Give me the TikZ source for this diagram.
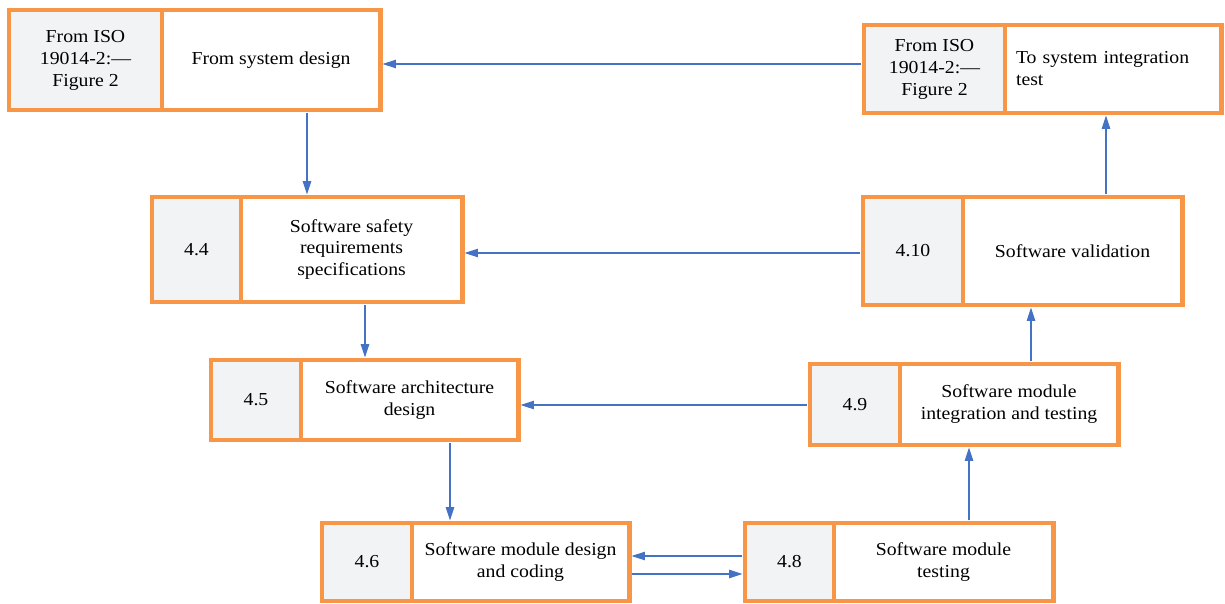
\documentclass[tikz,border=0pt]{standalone}
\usepackage{fontspec}
\setmainfont{Liberation Serif}[FakeStretch=1.08]
\usetikzlibrary{positioning,arrows.meta}
\definecolor{boxorange}{HTML}{F79646}
\definecolor{cellgrey}{HTML}{F2F3F5}
\definecolor{flowblue}{HTML}{4472C4}
\begin{document}
\begin{tikzpicture}[x=0.025cm,y=-0.025cm,
    cell/.style={draw=boxorange,line width=3.5pt,outer sep=0pt,align=center,
      font=\fontsize{13}{15.6}\selectfont},
    numcell/.style={cell,fill=cellgrey},
    txtcell/.style={cell,fill=white,right=0pt of #1},
    flow/.style={-{Triangle[length=9.5pt,width=6pt]},flowblue,line width=0.85pt,
      shorten <=1.8pt,shorten >=1.8pt}]
  \useasboundingbox (0,0) rectangle (1225,604);

  % top row
  \node[numcell,minimum width=3.825cm,minimum height=2.5cm] (iso1) at (85.5,60)
    {From ISO\\19014-2:—\\Figure 2};
  \node[txtcell=iso1,minimum width=5.45cm,minimum height=2.5cm] (sysd) {From system design};
  \node[numcell,minimum width=3.525cm,minimum height=2.2cm] (iso2) at (934.5,69)
    {From ISO\\19014-2:—\\Figure 2};
  \node[txtcell=iso2,minimum width=5.4cm,minimum height=2.2cm,align=left,
    text width=4.85cm] (sysi) {To system integration\\test};

  % left branch
  \node[numcell,minimum width=2.225cm,minimum height=2.625cm] (n44) at (196.5,249.5) {4.4};
  \node[txtcell=n44,minimum width=5.525cm,minimum height=2.625cm] (ssr)
    {Software safety\\requirements\\specifications};
  \node[numcell,minimum width=2.25cm,minimum height=2cm] (n45) at (256,400) {4.5};
  \node[txtcell=n45,minimum width=5.425cm,minimum height=2cm] (sad)
    {Software architecture\\design};
  \node[numcell,minimum width=2.25cm,minimum height=1.95cm] (n46) at (367,562) {4.6};
  \node[txtcell=n46,minimum width=5.425cm,minimum height=1.95cm] (smd)
    {Software module design\\and coding};

  % right branch
  \node[numcell,minimum width=2.225cm,minimum height=1.95cm] (n48) at (789.5,562) {4.8};
  \node[txtcell=n48,minimum width=5.475cm,minimum height=1.95cm] (smt)
    {Software module\\testing};
  \node[numcell,minimum width=2.25cm,minimum height=2.025cm] (n49) at (855,404.5) {4.9};
  \node[txtcell=n49,minimum width=5.45cm,minimum height=2.025cm] (smi)
    {Software module\\integration and testing};
  \node[numcell,minimum width=2.5cm,minimum height=2.7cm] (n410) at (913,251) {4.10};
  \node[txtcell=n410,minimum width=5.475cm,minimum height=2.7cm] (swv)
    {Software validation};

  % flows
  \draw[flow] (iso2.west |- 0,64) -- (sysd.east |- 0,64);
  \draw[flow] (sysd.south -| 307,0) -- (ssr.north -| 307,0);
  \draw[flow] (n410.west |- 0,253) -- (ssr.east |- 0,253);
  \draw[flow] (ssr.south -| 365,0) -- (sad.north -| 365,0);
  \draw[flow] (n49.west |- 0,405) -- (sad.east |- 0,405);
  \draw[flow] (sad.south -| 450,0) -- (smd.north -| 450,0);
  \draw[flow] (n48.west |- 0,556) -- (smd.east |- 0,556);
  \draw[flow] (smd.east |- 0,574) -- (n48.west |- 0,574);
  \draw[flow] (smt.north -| 969,0) -- (smi.south -| 969,0);
  \draw[flow] (smi.north -| 1031,0) -- (swv.south -| 1031,0);
  \draw[flow] (swv.north -| 1106,0) -- (sysi.south -| 1106,0);
\end{tikzpicture}
\end{document}
